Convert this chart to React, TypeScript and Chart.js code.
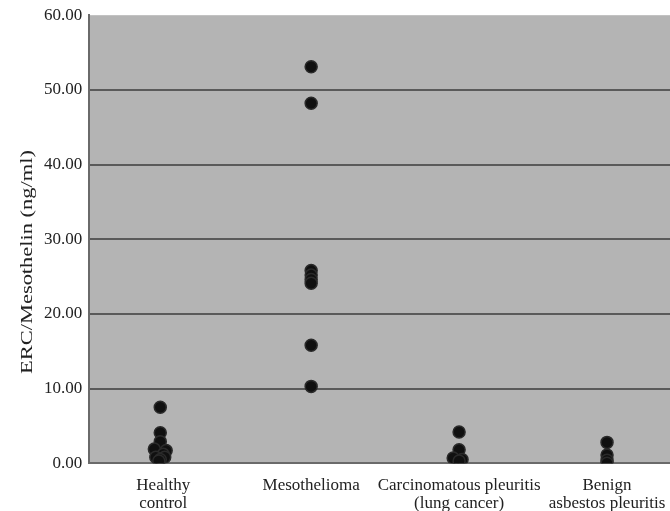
import React, { useEffect, useRef } from "react";
import { Chart, registerables } from "chart.js";

Chart.register(...registerables);

const categories: string[][] = [
  ["Healthy", "control"],
  ["Mesothelioma"],
  ["Carcinomatous pleuritis", "(lung cancer)"],
  ["Benign", "asbestos pleuritis"],
];

const yTitle = "ERC/Mesothelin (ng/ml)";

// values (ng/ml) per group, with small horizontal jitter (category units)
const healthyValues = [7.5, 4.1, 2.9, 1.9, 1.7, 1.2, 0.8, 0.8, 0.5, 0.3];
const healthyJitter = [-0.02, -0.02, -0.02, -0.06, 0.02, 0.0, -0.05, 0.01, -0.02, -0.03];
const mesoValues = [53.1, 48.2, 25.8, 25.2, 24.6, 24.1, 15.8, 10.3];
const mesoJitter = [0, 0, 0, 0, 0, 0, 0, 0];
const carcValues = [4.2, 1.8, 0.7, 0.5, 0.3];
const carcJitter = [0, 0, -0.04, 0.02, 0.0];
const benignValues = [2.8, 1.1, 0.4, 0.0];
const benignJitter = [0, 0, 0, 0];

const yTicks = [0, 10, 20, 30, 40, 50, 60];

const groups = [
  { values: healthyValues, jitter: healthyJitter },
  { values: mesoValues, jitter: mesoJitter },
  { values: carcValues, jitter: carcJitter },
  { values: benignValues, jitter: benignJitter },
];

const FONT = '"Liberation Serif", "Times New Roman", serif';

const bgPlugin = {
  id: "plotBg",
  beforeDraw(chart: any) {
    const { ctx, chartArea } = chart;
    ctx.save();
    ctx.fillStyle = "#b4b4b4";
    ctx.fillRect(chartArea.left, chartArea.top, chartArea.right - chartArea.left, chartArea.bottom - chartArea.top);
    ctx.restore();
  },
};

// y-axis title, drawn stretched along its reading direction like the reference
const titlePlugin = {
  id: "yTitleStretched",
  afterDraw(chart: any) {
    const { ctx } = chart;
    ctx.save();
    ctx.translate(32, 264);
    ctx.rotate(-Math.PI / 2);
    ctx.scale(1.32, 1);
    ctx.font = `17px ${FONT}`;
    ctx.fillStyle = "#222";
    ctx.textAlign = "center";
    ctx.textBaseline = "alphabetic";
    ctx.fillText(yTitle, 0, 0);
    ctx.restore();
  },
};

export default function App() {
  const ref = useRef<HTMLCanvasElement | null>(null);
  useEffect(() => {
    if (!ref.current) return;
    const data = groups.flatMap((g, i) =>
      g.values.map((v, k) => ({ x: i + g.jitter[k], y: v }))
    );
    const chart = new Chart(ref.current, {
      type: "scatter",
      data: {
        datasets: [
          {
            data,
            backgroundColor: "#101010",
            borderColor: "#2a2a2a",
            borderWidth: 1.5,
            pointRadius: 6,
          },
        ],
      },
      options: {
        animation: false,
        responsive: false,
        layout: { padding: { top: 3, right: 19, left: 37, bottom: 2 } },
        plugins: { legend: { display: false }, tooltip: { enabled: false } },
        scales: {
          x: {
            type: "linear",
            min: -0.5,
            max: 3.5,
            afterBuildTicks: (scale: any) => {
              scale.ticks = categories.map((_, i) => ({ value: i }));
            },
            ticks: {
              callback: (v: any) => categories[Math.round(Number(v))] ?? "",
              font: { family: FONT, size: 17, lineHeight: 1.05 },
              color: "#222",
              padding: 13,
              maxRotation: 0,
              autoSkip: false,
            },
            grid: { display: false, drawTicks: false },
            border: { display: true, color: "#6a6a6a", width: 2 },
          },
          y: {
            min: 0,
            max: 60,
            afterBuildTicks: (scale: any) => {
              scale.ticks = yTicks.map((v) => ({ value: v }));
            },
            ticks: {
              callback: (v: any) => Number(v).toFixed(2),
              font: { family: FONT, size: 17 },
              color: "#222",
              padding: 7,
            },
            grid: {
              drawTicks: false,
              color: (c: any) => (c.tick && (c.tick.value === 60 || c.tick.value === 0) ? "rgba(0,0,0,0)" : "#5a5a5a"),
              lineWidth: 2,
            },
            border: { display: true, color: "#6a6a6a", width: 2 },
          },
        },
      },
      plugins: [bgPlugin, titlePlugin],
    } as any);
    return () => chart.destroy();
  }, []);
  return (
    <div style={{ position: "fixed", left: 0, top: 0, width: 670, height: 511, overflow: "hidden", background: "#fff" }}>
      <canvas ref={ref} width={700} height={529} style={{ display: "block", marginTop: -2 }} />
    </div>
  );
}
